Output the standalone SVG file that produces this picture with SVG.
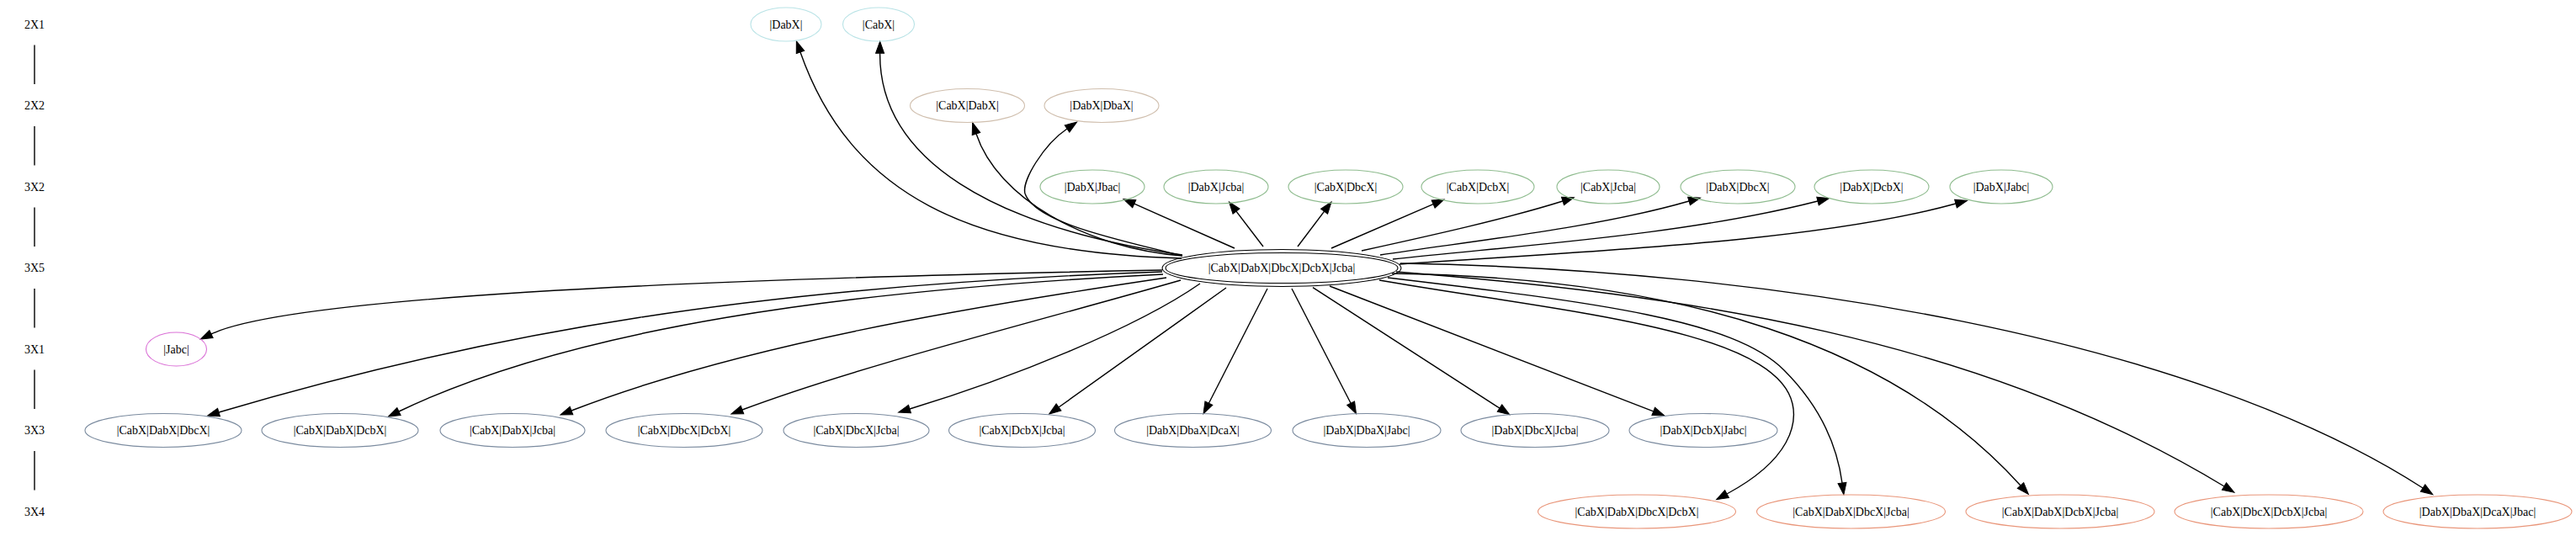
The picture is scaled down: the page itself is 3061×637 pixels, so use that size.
<svg xmlns="http://www.w3.org/2000/svg" width="3061" height="637" viewBox="0 0 3061 637">
<defs>
<marker id="ah" markerUnits="userSpaceOnUse" markerWidth="16" markerHeight="12" refX="0" refY="5" orient="auto" overflow="visible"><path d="M0,0 L14,5 L0,10 z" fill="#000" stroke="#000" stroke-width="1"/></marker>
</defs>
<style>
text{font-family:"Liberation Serif","Times New Roman",serif;font-size:14px;fill:#000;text-anchor:middle}
ellipse{fill:none;stroke-width:1.1}
.r1{stroke:#b9e3e6}.r2{stroke:#d0bfae}.r3{stroke:#8fbc8f}.r5{stroke:#000}.r6{stroke:#da70d6}.r7{stroke:#7b8b9f}.r8{stroke:#e9967a}
#edges path{fill:none;stroke:#000;stroke-width:1.4;marker-end:url(#ah)}
#ranks line{stroke:#000;stroke-width:1.4}
</style>
<rect width="3061" height="637" fill="#fff"/>
<g id="ranks">
<text x="41" y="33.5">2X1</text>
<text x="41" y="130">2X2</text>
<text x="41" y="226.5">3X2</text>
<text x="41" y="323">3X5</text>
<text x="41" y="419.5">3X1</text>
<text x="41" y="516">3X3</text>
<text x="41" y="612.5">3X4</text>
<line x1="41" y1="53.5" x2="41" y2="100"/>
<line x1="41" y1="150" x2="41" y2="196.5"/>
<line x1="41" y1="246.5" x2="41" y2="293"/>
<line x1="41" y1="343" x2="41" y2="389.5"/>
<line x1="41" y1="439.5" x2="41" y2="486"/>
<line x1="41" y1="536" x2="41" y2="582.5"/>
</g>
<g id="edges">
<path d="M1404,307 C1150,300 1010,230 951,62"/>
<path d="M1405,303 C1180,270 1045,190 1045.6,63.3"/>
<path d="M1405,304 C1290,295 1185,235 1160,159"/>
<path d="M1405,304 C1330,285 1230,265 1218,230 C1214,215 1240,172 1268,153"/>
<path d="M1467,295 L1347.8,242.2"/>
<path d="M1501,293 L1469,251.1"/>
<path d="M1542,293 L1573.6,251.2"/>
<path d="M1582,295 L1703.1,242.6"/>
<path d="M1618,298 C1700,280 1790,260 1857,239"/>
<path d="M1640,303 C1760,285 1900,270 2007,239"/>
<path d="M1655,308 C1800,292 2000,280 2160,239"/>
<path d="M1663,314 C1850,300 2150,290 2324,242"/>
<path d="M1381,321 C900,330 350,350 251,397"/>
<path d="M1381,323 C900,340 580,395 260,490"/>
<path d="M1382,326 C1000,345 680,390 474,489"/>
<path d="M1386,330 C1150,365 880,410 679,488"/>
<path d="M1403,333 C1240,380 1020,435 882,487"/>
<path d="M1426,337 C1350,390 1200,450 1081,486"/>
<path d="M1457,342 C1390,390 1320,440 1258,484"/>
<path d="M1506,343 L1436.4,479.2"/>
<path d="M1535,343 L1605.1,479.2"/>
<path d="M1560,341.7 L1782,485.1"/>
<path d="M1580,340 L1964.7,488.9"/>
<path d="M1639,333 C1850,370 2110,390 2130,480 C2135,502 2130,545 2052,587"/>
<path d="M1649,330 C1900,360 2060,380 2120,440 C2165,485 2183,530 2189,574"/>
<path d="M1654,325 C2000,330 2250,410 2401,577"/>
<path d="M1659,323 C2000,350 2350,400 2643,578"/>
<path d="M1664,313 C2100,320 2600,400 2879,580"/>
</g>
<g id="n_DabX"><ellipse class="r1" cx="934" cy="29" rx="42" ry="20"/><text x="934" y="33.5">|DabX|</text></g>
<g id="n_CabX"><ellipse class="r1" cx="1044" cy="29" rx="42.5" ry="20"/><text x="1044" y="33.5">|CabX|</text></g>
<g id="n_CabX_DabX"><ellipse class="r2" cx="1149.5" cy="125.5" rx="68" ry="20"/><text x="1149.5" y="130">|CabX|DabX|</text></g>
<g id="n_DabX_DbaX"><ellipse class="r2" cx="1309" cy="125.5" rx="68" ry="20"/><text x="1309" y="130">|DabX|DbaX|</text></g>
<g id="n_DabX_Jbac"><ellipse class="r3" cx="1298" cy="222" rx="62" ry="20"/><text x="1298" y="226.5">|DabX|Jbac|</text></g>
<g id="n_DabX_Jcba"><ellipse class="r3" cx="1445" cy="222" rx="62" ry="20"/><text x="1445" y="226.5">|DabX|Jcba|</text></g>
<g id="n_CabX_DbcX"><ellipse class="r3" cx="1599" cy="222" rx="68" ry="20"/><text x="1599" y="226.5">|CabX|DbcX|</text></g>
<g id="n_CabX_DcbX"><ellipse class="r3" cx="1756" cy="222" rx="67" ry="20"/><text x="1756" y="226.5">|CabX|DcbX|</text></g>
<g id="n_CabX_Jcba"><ellipse class="r3" cx="1911" cy="222" rx="61" ry="20"/><text x="1911" y="226.5">|CabX|Jcba|</text></g>
<g id="n_DabX_DbcX"><ellipse class="r3" cx="2065" cy="222" rx="68" ry="20"/><text x="2065" y="226.5">|DabX|DbcX|</text></g>
<g id="n_DabX_DcbX"><ellipse class="r3" cx="2224" cy="222" rx="68" ry="20"/><text x="2224" y="226.5">|DabX|DcbX|</text></g>
<g id="n_DabX_Jabc"><ellipse class="r3" cx="2378" cy="222" rx="61" ry="20"/><text x="2378" y="226.5">|DabX|Jabc|</text></g>
<g id="n_center"><ellipse class="r5" cx="1523" cy="318.5" rx="142" ry="22"/><ellipse class="r5" cx="1523" cy="318.5" rx="138" ry="18"/><text x="1523" y="323">|CabX|DabX|DbcX|DcbX|Jcba|</text></g>
<g id="n_Jabc"><ellipse class="r6" cx="209.5" cy="415" rx="36" ry="20"/><text x="209.5" y="419.5">|Jabc|</text></g>
<g id="n_CabX_DabX_DbcX"><ellipse class="r7" cx="194" cy="511.5" rx="93" ry="20"/><text x="194" y="516">|CabX|DabX|DbcX|</text></g>
<g id="n_CabX_DabX_DcbX"><ellipse class="r7" cx="404" cy="511.5" rx="93" ry="20"/><text x="404" y="516">|CabX|DabX|DcbX|</text></g>
<g id="n_CabX_DabX_Jcba"><ellipse class="r7" cx="609" cy="511.5" rx="86" ry="20"/><text x="609" y="516">|CabX|DabX|Jcba|</text></g>
<g id="n_CabX_DbcX_DcbX"><ellipse class="r7" cx="813" cy="511.5" rx="93" ry="20"/><text x="813" y="516">|CabX|DbcX|DcbX|</text></g>
<g id="n_CabX_DbcX_Jcba"><ellipse class="r7" cx="1017.5" cy="511.5" rx="86.5" ry="20"/><text x="1017.5" y="516">|CabX|DbcX|Jcba|</text></g>
<g id="n_CabX_DcbX_Jcba"><ellipse class="r7" cx="1214.5" cy="511.5" rx="87" ry="20"/><text x="1214.5" y="516">|CabX|DcbX|Jcba|</text></g>
<g id="n_DabX_DbaX_DcaX"><ellipse class="r7" cx="1417.5" cy="511.5" rx="93" ry="20"/><text x="1417.5" y="516">|DabX|DbaX|DcaX|</text></g>
<g id="n_DabX_DbaX_Jabc"><ellipse class="r7" cx="1624" cy="511.5" rx="88" ry="20"/><text x="1624" y="516">|DabX|DbaX|Jabc|</text></g>
<g id="n_DabX_DbcX_Jcba"><ellipse class="r7" cx="1824" cy="511.5" rx="88" ry="20"/><text x="1824" y="516">|DabX|DbcX|Jcba|</text></g>
<g id="n_DabX_DcbX_Jabc"><ellipse class="r7" cx="2024" cy="511.5" rx="88" ry="20"/><text x="2024" y="516">|DabX|DcbX|Jabc|</text></g>
<g id="n_CabX_DabX_DbcX_DcbX"><ellipse class="r8" cx="1945" cy="608" rx="117.5" ry="20"/><text x="1945" y="612.5">|CabX|DabX|DbcX|DcbX|</text></g>
<g id="n_CabX_DabX_DbcX_Jcba"><ellipse class="r8" cx="2199.5" cy="608" rx="112" ry="20"/><text x="2199.5" y="612.5">|CabX|DabX|DbcX|Jcba|</text></g>
<g id="n_CabX_DabX_DcbX_Jcba"><ellipse class="r8" cx="2448" cy="608" rx="112" ry="20"/><text x="2448" y="612.5">|CabX|DabX|DcbX|Jcba|</text></g>
<g id="n_CabX_DbcX_DcbX_Jcba"><ellipse class="r8" cx="2696" cy="608" rx="112" ry="20"/><text x="2696" y="612.5">|CabX|DbcX|DcbX|Jcba|</text></g>
<g id="n_DabX_DbaX_DcaX_Jbac"><ellipse class="r8" cx="2944" cy="608" rx="112" ry="20"/><text x="2944" y="612.5">|DabX|DbaX|DcaX|Jbac|</text></g>
</svg>
